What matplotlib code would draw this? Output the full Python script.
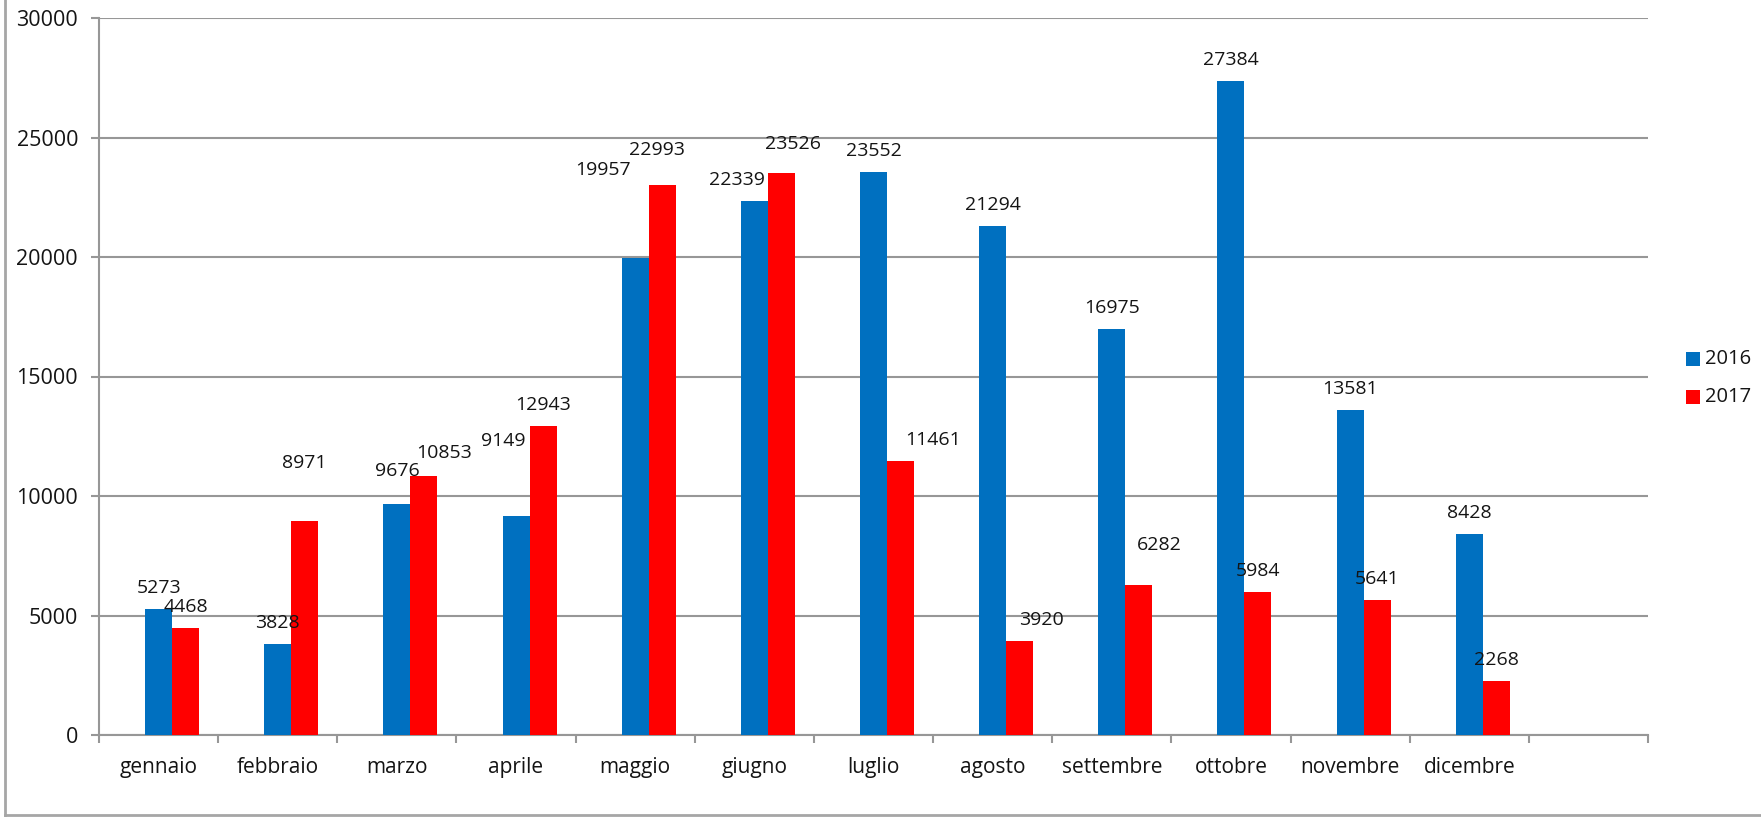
import matplotlib
matplotlib.use("Agg")
import matplotlib.pyplot as plt
from matplotlib.lines import Line2D
from matplotlib.patches import Rectangle
import numpy as np

# Monthly totals for the two years
months = ["gennaio", "febbraio", "marzo", "aprile", "maggio", "giugno",
          "luglio", "agosto", "settembre", "ottobre", "novembre", "dicembre"]
values_2016 = [5273, 3828, 9676, 9149, 19957, 22339, 23552, 21294, 16975, 27384, 13581, 8428]
values_2017 = [4468, 8971, 10853, 12943, 22993, 23526, 11461, 3920, 6282, 5984, 5641, 2268]
series_names = ["2016", "2017"]
y_ticks = [0, 5000, 10000, 15000, 20000, 25000, 30000]

BLUE = "#0070C0"
RED = "#FF0000"
GRID = "#979797"
TEXT = "#141414"

plt.rcParams["font.family"] = ["Open Sans", "DejaVu Sans"]

W, H, DPI = 1761, 818, 100
PX = 72.0 / DPI  # pixels -> points

fig = plt.figure(figsize=(W / DPI, H / DPI), dpi=DPI)
ax = fig.add_axes([99 / W, 83 / H, (1648 - 99) / W, 717 / H])

n = len(months)
x = np.arange(n)
bw = 0.2266

ax.bar(x, values_2016, bw, color=BLUE, zorder=3, label=series_names[0])
ax.bar(x + bw, values_2017, bw, color=RED, zorder=3, label=series_names[1])

# one spare empty category slot on the right, as in the spreadsheet chart
ax.set_xlim(-0.5, n + 0.5)
ax.set_ylim(y_ticks[0], y_ticks[-1])

ax.set_yticks(y_ticks)
ax.set_yticklabels([str(v) for v in y_ticks])
ax.tick_params(axis="y", length=8 * PX, width=1.5, color=GRID, pad=13 * PX,
               labelsize=15.5, labelcolor=TEXT)

ax.set_xticks(np.arange(-0.5, n + 1.0, 1.0))
ax.set_xticklabels([])
ax.tick_params(axis="x", which="major", length=8 * PX, width=1.5, color=GRID)
ax.set_xticks(x, minor=True)
ax.set_xticklabels(months, minor=True)
ax.tick_params(axis="x", which="minor", length=0, pad=22 * PX,
               labelsize=15, labelcolor=TEXT)

ax.yaxis.grid(True, color=GRID, lw=1.5)
ax.set_axisbelow(True)
for side in ("top", "right"):
    ax.spines[side].set_visible(False)
for side in ("left", "bottom"):
    ax.spines[side].set_color(GRID)
    ax.spines[side].set_linewidth(1.5)

# value labels: sit above each bar, with a few nudged aside (dx, dy in px)
base_dy = 21
nudge_2016 = {2: (0, 12), 3: (-13, 54), 4: (-32, 67), 5: (-17, 0)}
nudge_2017 = {1: (0, 37), 2: (20, 2), 4: (-5, 14), 5: (12, 8),
              6: (33, 0), 7: (22, 0), 8: (21, 19)}

for xs, vals, nudges in ((x, values_2016, nudge_2016),
                         (x + bw, values_2017, nudge_2017)):
    for i, (xi, v) in enumerate(zip(xs, vals)):
        dx, dy = nudges.get(i, (0, 0))
        ax.annotate(str(v), xy=(xi, v), xytext=(dx * PX, (base_dy + dy) * PX),
                    textcoords="offset points", ha="center", va="center",
                    fontsize=14, color=TEXT, zorder=5)

# legend on the right: colour square + year
legend_rows_y = [359, 397]  # px from top
for name, col, ly in zip(series_names, (BLUE, RED), legend_rows_y):
    fig.add_artist(Rectangle((1686 / W, 1 - (ly + 7) / H), 14 / W, 14 / H,
                             transform=fig.transFigure, facecolor=col,
                             edgecolor="none"))
    fig.text(1705 / W, 1 - ly / H, name, ha="left", va="center",
             fontsize=14.5, color=TEXT)

# outer chart frame (left and bottom edges visible)
fig.add_artist(Line2D([5 / W, 5 / W], [3 / H, 1.0], transform=fig.transFigure,
                      color="#a6a6a6", lw=2))
fig.add_artist(Line2D([5 / W, 1.0], [3 / H, 3 / H], transform=fig.transFigure,
                      color="#a6a6a6", lw=2))

fig.savefig("out.png", dpi=DPI)
